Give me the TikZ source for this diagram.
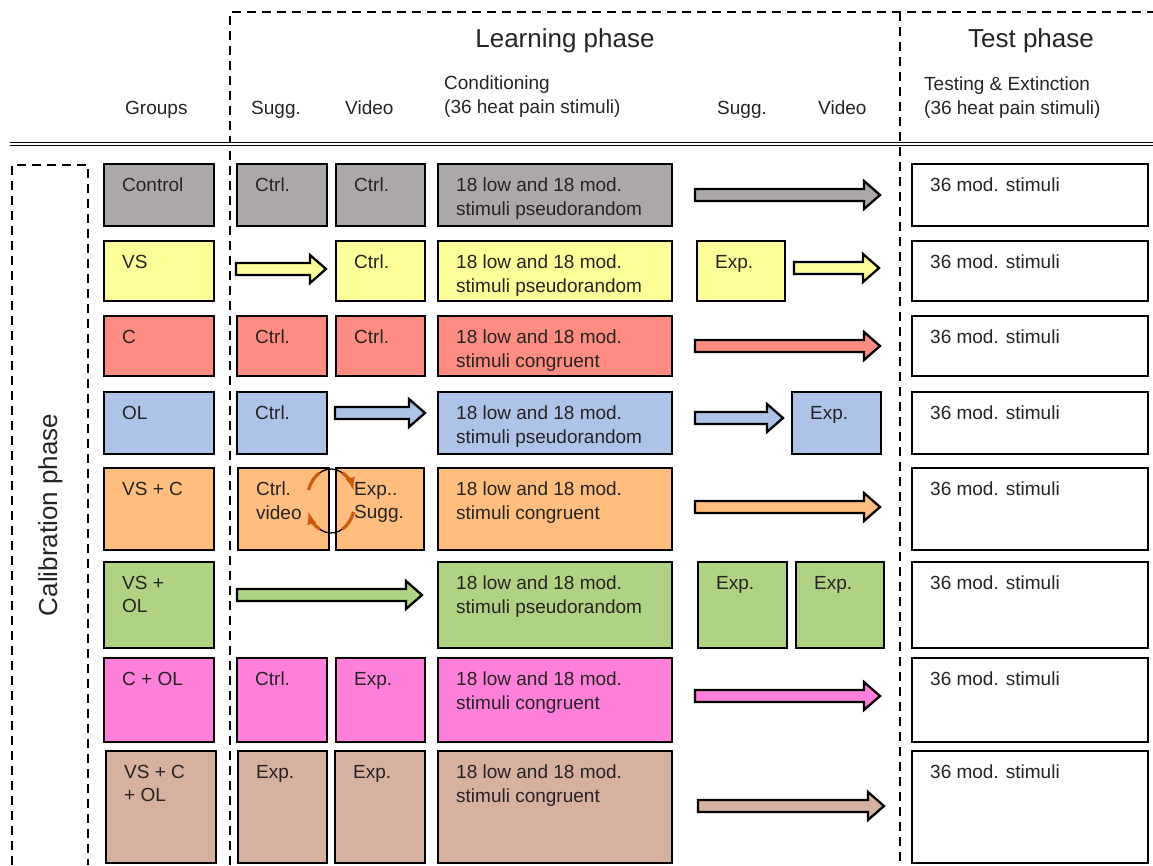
\documentclass[tikz,border=0pt]{standalone}
\usepackage{fontspec}
\setmainfont{Liberation Sans}

\definecolor{ctrlgray}{RGB}{173,168,168}
\definecolor{vsyellow}{RGB}{255,255,153}
\definecolor{csalmon}{RGB}{255,140,130}
\definecolor{olblue}{RGB}{173,196,232}
\definecolor{vscorange}{RGB}{255,190,125}
\definecolor{vsolgreen}{RGB}{176,210,131}
\definecolor{colpink}{RGB}{255,128,218}
\definecolor{alltan}{RGB}{214,177,160}
\definecolor{inkgray}{RGB}{38,35,35}
\definecolor{curlorange}{RGB}{205,90,15}

% block arrow: x start, x end, y, fill
\newcommand{\blockarrow}[4]{%
 \draw[arr, fill=#4] (#1,{#3-6}) -- ({#2-16},{#3-6}) -- ({#2-16},{#3-14})
 -- (#2,#3) -- ({#2-16},{#3+14}) -- ({#2-16},{#3+6}) -- (#1,{#3+6}) -- cycle;}

\begin{document}
\begin{tikzpicture}[
 x=1pt, y=-1pt,
 >={latex},
 font=\fontsize{19}{23.5}\selectfont,
 text=inkgray,
 cell/.style={draw=black,line width=2.3pt,rectangle,anchor=north west,inner sep=0pt},
 sz/.style 2 args={minimum width=#1pt,minimum height=#2pt},
 lbl/.style={anchor=north west,align=left,inner sep=0pt,xshift=19pt,yshift=-15pt},
 arr/.style={draw=black,line width=2.3pt,line join=miter},
 phase/.style={draw=black,line width=2.2pt,dash pattern=on 9pt off 6pt},
 title/.style={font=\fontsize{26}{30}\selectfont,anchor=base,inner sep=0pt},
 head/.style={anchor=base west,inner sep=0pt},
 head2/.style={anchor=north west,align=left,inner sep=0pt},
 curl/.style={draw=curlorange,line width=3.2pt}
]
\useasboundingbox (0,0) rectangle (1153,865);

% phases
\draw[phase] (230,865) -- (230,12) -- (1153,12);
\draw[phase] (900,12) -- (900,865);
\draw[phase] (12,865) -- (12,165) -- (88,165) -- (88,865);
\draw[double=white,double distance=2pt,line width=1.3pt] (10,144) -- (1153,144);

\node[title] (learn) at (565,47) {Learning phase};
\node[title] (test) at (1031,47) {Test phase};
\node[title,rotate=90] (calib) at (57,515) {Calibration phase};

% column heads
\node[head] (hgrp) at (125,114) {Groups};
\node[head] (hsug) at (251,114) {Sugg.};
\node[head] (hvid) at (345,114) {Video};
\node[head2] (hcond) at (444,76) {Conditioning\\(36 heat pain stimuli)};
\node[head] (hsugb) at (717,114) {Sugg.};
\node[head] (hvidb) at (818,114) {Video};
\node[head2] (htest) at (924,77) {Testing \& Extinction\\(36 heat pain stimuli)};

% Control
\node (grp1) [cell,fill=ctrlgray,sz={110}{62},label={[lbl]north west:Control}] at (103,163) {};
\node (sug1) [cell,fill=ctrlgray,sz={90}{62},label={[lbl]north west:Ctrl.}] at (236,163) {};
\node (vid1) [cell,fill=ctrlgray,sz={89}{62},label={[lbl]north west:Ctrl.}] at (335,163) {};
\node (cond1) [cell,fill=ctrlgray,sz={234}{62},label={[lbl]north west:18 low and 18 mod.\\stimuli pseudorandom}] at (437,163) {};
\node (test1) [cell,fill=white,sz={236}{62},label={[lbl]north west:36 mod. stimuli}] at (911,163) {};
\blockarrow{695}{880}{195}{ctrlgray}

% VS
\node (grp2) [cell,fill=vsyellow,sz={110}{60},label={[lbl]north west:VS}] at (103,240) {};
\node (vid2) [cell,fill=vsyellow,sz={89}{60},label={[lbl]north west:Ctrl.}] at (335,240) {};
\node (cond2) [cell,fill=vsyellow,sz={234}{60},label={[lbl]north west:18 low and 18 mod.\\stimuli pseudorandom}] at (437,240) {};
\node (sugb2) [cell,fill=vsyellow,sz={88}{60},label={[lbl]north west:Exp.}] at (696,240) {};
\node (test2) [cell,fill=white,sz={236}{60},label={[lbl]north west:36 mod. stimuli}] at (911,240) {};
\blockarrow{236}{326}{269}{vsyellow}
\blockarrow{794}{879}{268}{vsyellow}

% C
\node (grp3) [cell,fill=csalmon,sz={110}{60},label={[lbl]north west:C}] at (103,315) {};
\node (sug3) [cell,fill=csalmon,sz={90}{60},label={[lbl]north west:Ctrl.}] at (236,315) {};
\node (vid3) [cell,fill=csalmon,sz={89}{60},label={[lbl]north west:Ctrl.}] at (335,315) {};
\node (cond3) [cell,fill=csalmon,sz={234}{60},label={[lbl]north west:18 low and 18 mod.\\stimuli congruent}] at (437,315) {};
\node (test3) [cell,fill=white,sz={236}{60},label={[lbl]north west:36 mod. stimuli}] at (911,315) {};
\blockarrow{695}{880}{346}{csalmon}

% OL
\node (grp4) [cell,fill=olblue,sz={110}{62},label={[lbl]north west:OL}] at (103,391) {};
\node (sug4) [cell,fill=olblue,sz={90}{62},label={[lbl]north west:Ctrl.}] at (236,391) {};
\node (cond4) [cell,fill=olblue,sz={234}{62},label={[lbl]north west:18 low and 18 mod.\\stimuli pseudorandom}] at (437,391) {};
\node (vidb4) [cell,fill=olblue,sz={89}{62},label={[lbl]north west:Exp.}] at (791,391) {};
\node (test4) [cell,fill=white,sz={236}{62},label={[lbl]north west:36 mod. stimuli}] at (911,391) {};
\blockarrow{335}{425}{413}{olblue}
\blockarrow{695}{783}{418}{olblue}

% VS + C
\node (grp5) [cell,fill=vscorange,sz={110}{82},label={[lbl]north west:VS + C}] at (103,467) {};
\node (sug5) [cell,fill=vscorange,sz={91}{82},label={[lbl]north west:Ctrl.\\video}] at (237,467) {};
\node (vid5) [cell,fill=vscorange,sz={88}{82},label={[lbl]north west:Exp..\\Sugg.}] at (335,467) {};
\node (cond5) [cell,fill=vscorange,sz={234}{82},label={[lbl]north west:18 low and 18 mod.\\stimuli congruent}] at (437,467) {};
\node (test5) [cell,fill=white,sz={236}{82},label={[lbl]north west:36 mod. stimuli}] at (911,467) {};
\blockarrow{695}{880}{507}{vscorange}
% swap
\draw[line width=1.3pt] (331,501) ++(205:24 and 32) arc[start angle=205,end angle=335,x radius=24,y radius=32];
\draw[line width=1.3pt] (331,501) ++(25:24 and 32) arc[start angle=25,end angle=155,x radius=24,y radius=32];
\draw[curl] (331,501) ++(200:24 and 32) arc[start angle=200,end angle=242,x radius=24,y radius=32];
\draw[curl,->] (331,501) ++(298:24 and 32) arc[start angle=298,end angle=340,x radius=24,y radius=32];
\draw[curl] (331,501) ++(20:24 and 32) arc[start angle=20,end angle=62,x radius=24,y radius=32];
\draw[curl,->] (331,501) ++(118:24 and 32) arc[start angle=118,end angle=160,x radius=24,y radius=32];

% VS + OL
\node (grp6) [cell,fill=vsolgreen,sz={110}{86},label={[lbl]north west:VS +\\OL}] at (103,561) {};
\node (cond6) [cell,fill=vsolgreen,sz={234}{86},label={[lbl]north west:18 low and 18 mod.\\stimuli pseudorandom}] at (437,561) {};
\node (sugb6) [cell,fill=vsolgreen,sz={89}{86},label={[lbl]north west:Exp.}] at (697,561) {};
\node (vidb6) [cell,fill=vsolgreen,sz={88}{86},label={[lbl]north west:Exp.}] at (795,561) {};
\node (test6) [cell,fill=white,sz={236}{86},label={[lbl]north west:36 mod. stimuli}] at (911,561) {};
\blockarrow{237}{422}{595}{vsolgreen}

% C + OL
\node (grp7) [cell,fill=colpink,sz={110}{84},label={[lbl]north west:C + OL}] at (103,657) {};
\node (sug7) [cell,fill=colpink,sz={90}{84},label={[lbl]north west:Ctrl.}] at (236,657) {};
\node (vid7) [cell,fill=colpink,sz={89}{84},label={[lbl]north west:Exp.}] at (335,657) {};
\node (cond7) [cell,fill=colpink,sz={234}{84},label={[lbl]north west:18 low and 18 mod.\\stimuli congruent}] at (437,657) {};
\node (test7) [cell,fill=white,sz={236}{84},label={[lbl]north west:36 mod. stimuli}] at (911,657) {};
\blockarrow{695}{880}{696}{colpink}

% VS + C + OL
\node (grp8) [cell,fill=alltan,sz={110}{112},label={[lbl]north west:VS + C\\+ OL}] at (105,750) {};
\node (sug8) [cell,fill=alltan,sz={89}{112},label={[lbl]north west:Exp.}] at (237,750) {};
\node (vid8) [cell,fill=alltan,sz={90}{112},label={[lbl]north west:Exp.}] at (334,750) {};
\node (cond8) [cell,fill=alltan,sz={234}{112},label={[lbl]north west:18 low and 18 mod.\\stimuli congruent}] at (437,750) {};
\node (test8) [cell,fill=white,sz={236}{112},label={[lbl]north west:36 mod. stimuli}] at (911,750) {};
\blockarrow{698}{884}{806}{alltan}
\end{tikzpicture}
\end{document}
